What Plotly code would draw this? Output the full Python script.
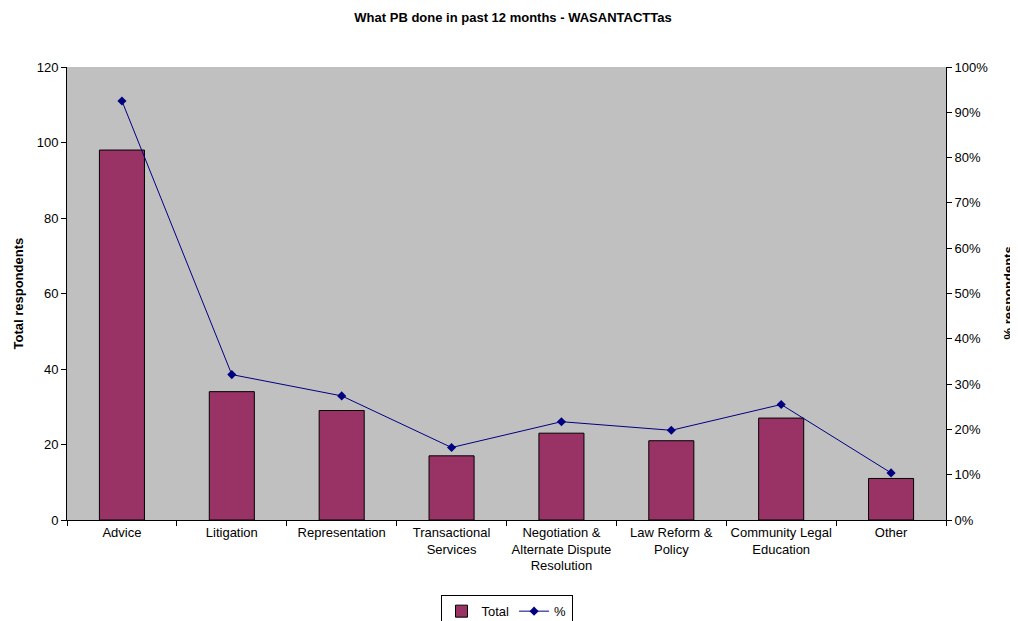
import plotly.graph_objects as go

categories = ["Advice", "Litigation", "Representation", "Transactional<br>Services",
              "Negotiation &<br>Alternate Dispute<br>Resolution", "Law Reform &<br>Policy",
              "Community Legal<br>Education", "Other"]
totals = [98, 34, 29, 17, 23, 21, 27, 11]
percents = [0.925, 0.321, 0.274, 0.160, 0.217, 0.198, 0.255, 0.104]

font = "Liberation Sans, Arial, sans-serif"

fig = go.Figure()
fig.add_trace(go.Bar(x=categories, y=totals, name="Total",
                     marker=dict(color="#993366", line=dict(color="black", width=1)),
                     yaxis="y"))
fig.add_trace(go.Scatter(x=categories, y=percents, name="%", mode="lines+markers",
                         line=dict(color="#000080", width=1),
                         marker=dict(symbol="diamond", size=7, color="#000080"),
                         yaxis="y2"))

fig.update_layout(
    width=1010, height=613,
    margin=dict(l=59, r=72, t=59, b=101, autoexpand=False),
    paper_bgcolor="white", plot_bgcolor="#C0C0C0",
    font=dict(family=font, size=13, color="black"),
    title=dict(text="<b>What PB done in past 12 months - WASANTACTTas</b>",
               x=0.5, xanchor="center", y=0.984, yref="container", yanchor="middle",
               font=dict(size=13)),
    bargap=0.59,
    showlegend=True,
    legend=dict(orientation="h", x=0.5, xanchor="center", y=-0.166, yanchor="top",
                xref="paper", yref="paper",
                bordercolor="black", borderwidth=1, bgcolor="white",
                font=dict(size=13), traceorder="normal",
                itemwidth=30, tracegroupgap=0),
    xaxis=dict(type="category", showline=True, linecolor="black", linewidth=1,
               ticks="outside", tickson="boundaries", ticklen=5, tickcolor="black",
               showgrid=False, mirror=False, tickangle=0, automargin=False),
    yaxis=dict(range=[0, 120], dtick=20, showline=True, linecolor="black", linewidth=1,
               ticks="outside", ticklen=5, tickcolor="black", showgrid=False, zeroline=False,
               automargin=False),
    yaxis2=dict(range=[0, 1], dtick=0.1, tickformat=".0%", overlaying="y", side="right",
                showline=True, linecolor="black", linewidth=1,
                ticks="outside", ticklen=5, tickcolor="black", showgrid=False, zeroline=False,
                automargin=False),
    annotations=[
        dict(text="<b>Total respondents</b>", x=0, xref="paper", y=0.5, yref="paper",
             xanchor="center", yanchor="middle", textangle=-90, showarrow=False,
             xshift=-49, font=dict(size=13)),
        dict(text="<b>% respondents</b>", x=1.0, xref="paper", y=0.5, yref="paper",
             xanchor="center", yanchor="middle", textangle=-90, showarrow=False,
             xshift=62, font=dict(size=13)),
    ],
)

fig.write_html("out.html")
